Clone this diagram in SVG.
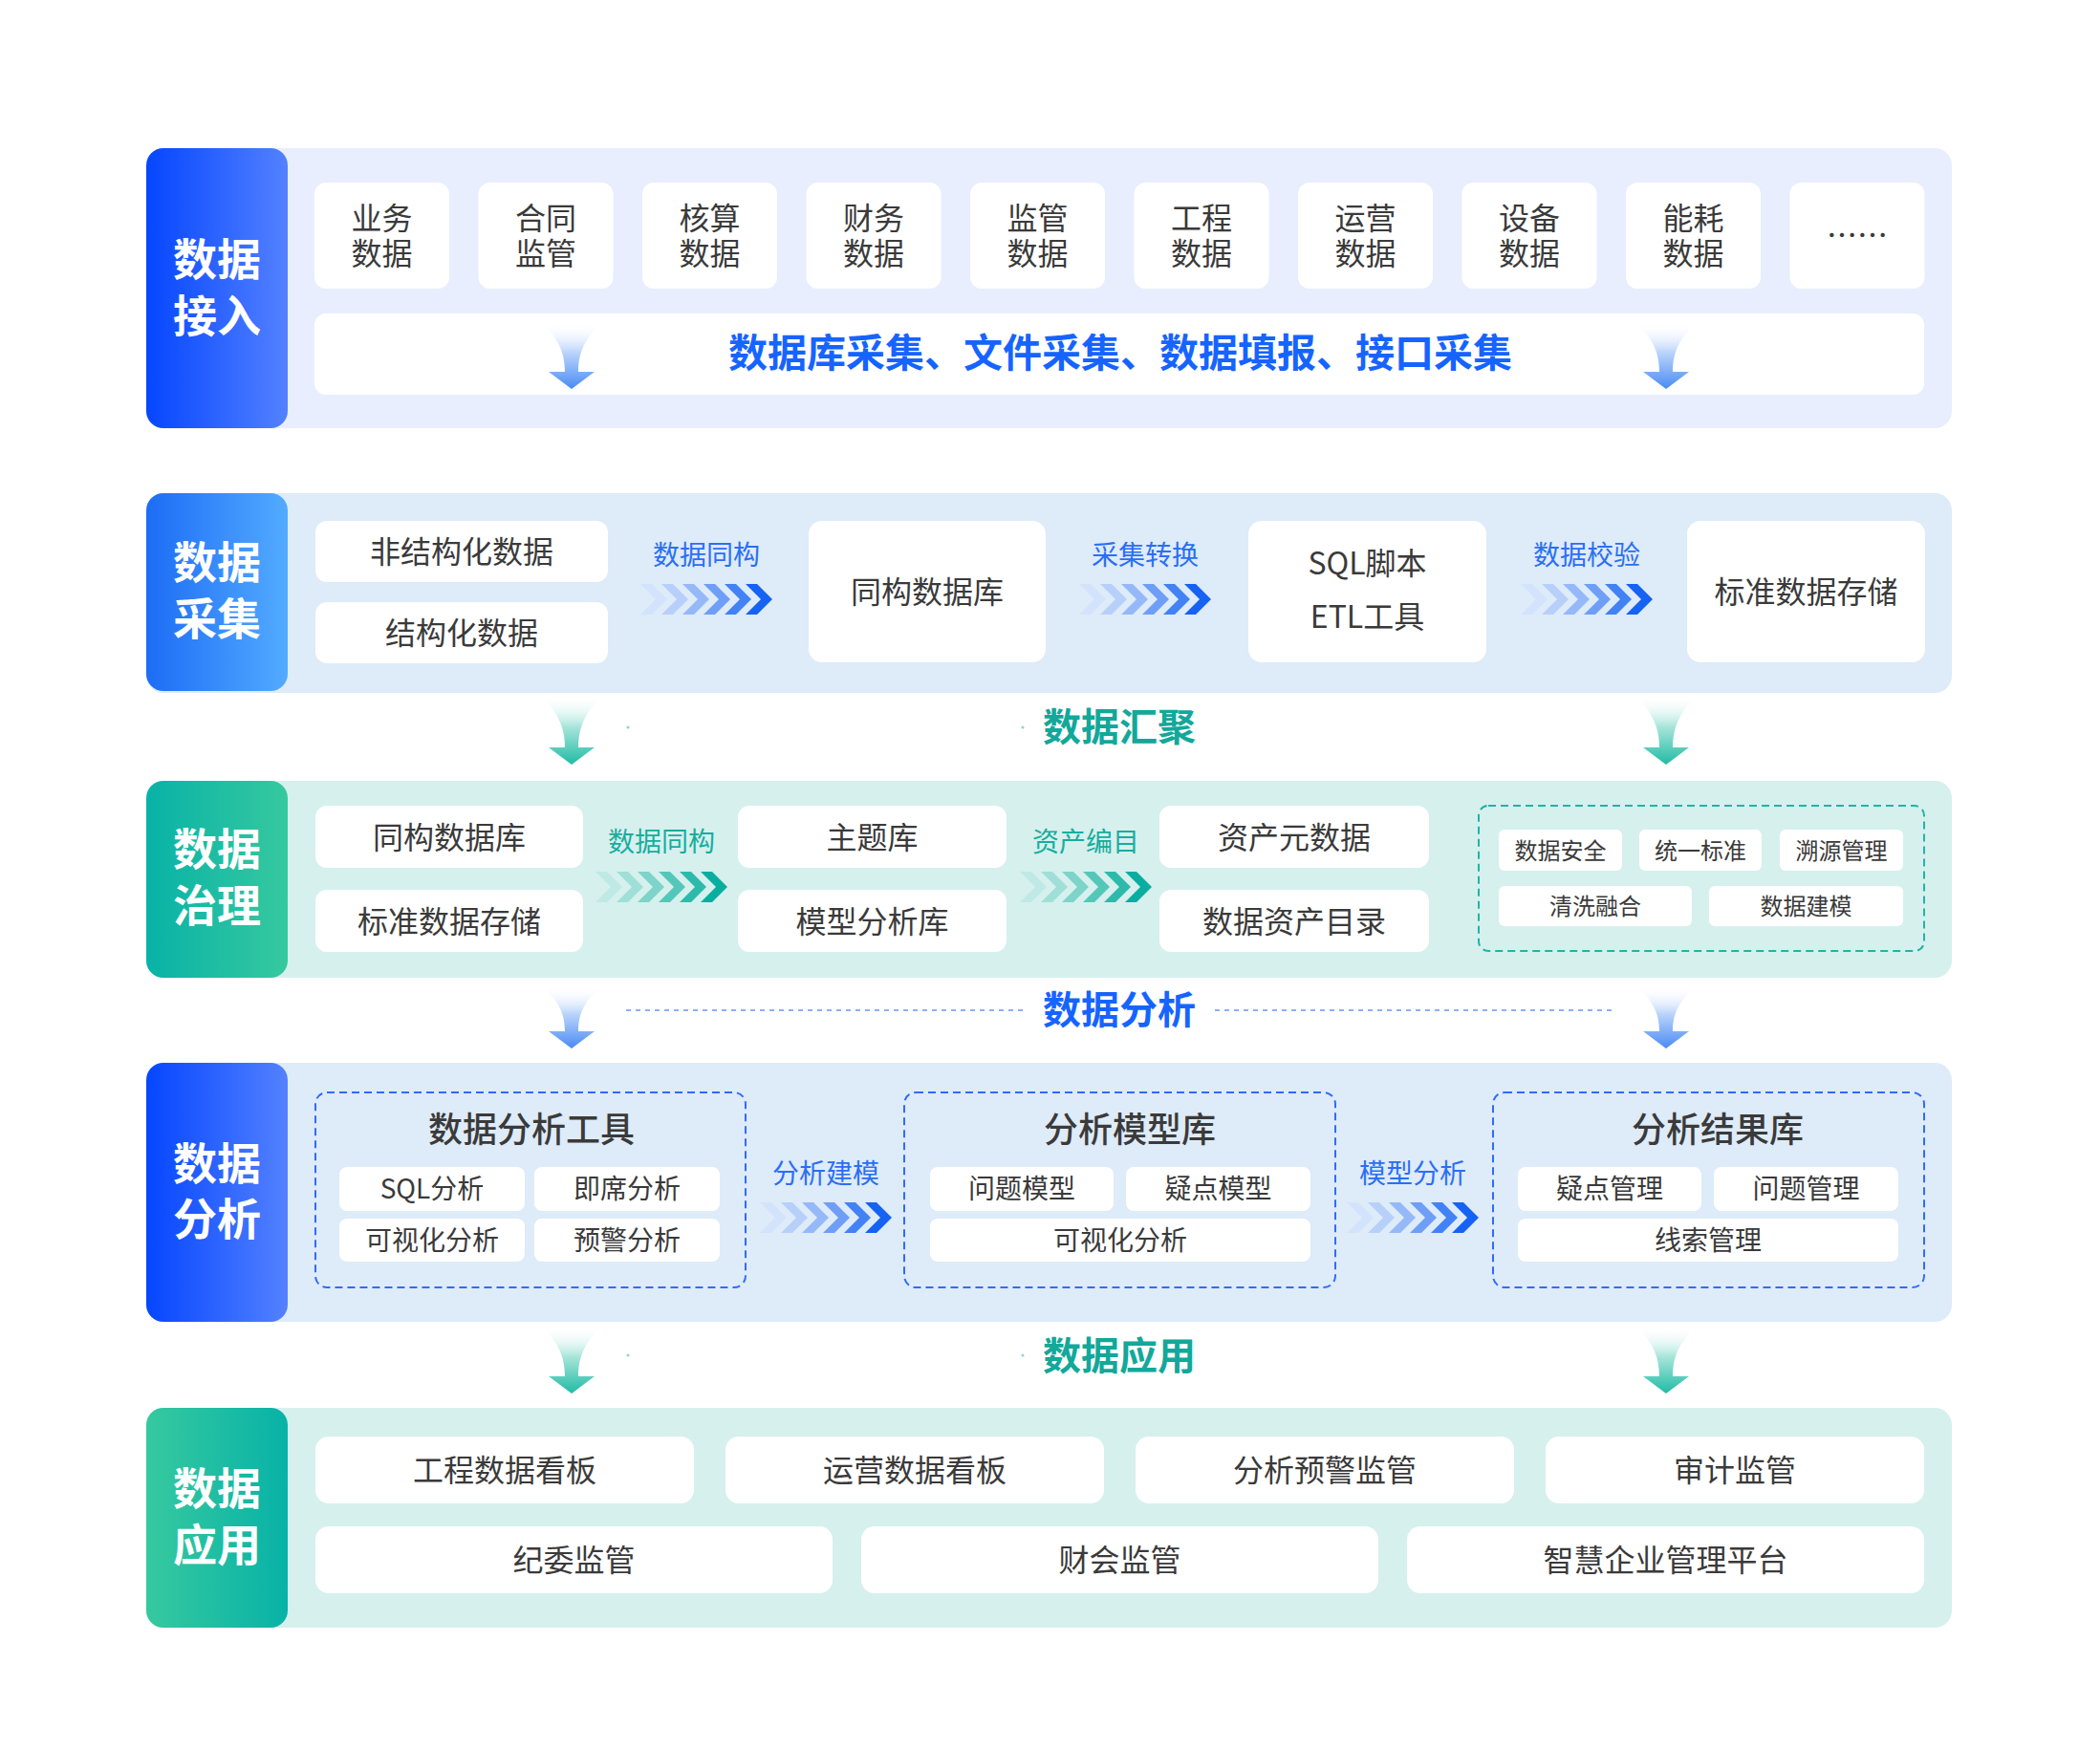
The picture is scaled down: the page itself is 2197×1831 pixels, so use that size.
<svg xmlns="http://www.w3.org/2000/svg" width="2197" height="1831" viewBox="0 0 2197 1831">
<style>
text{font-family:"Noto Sans CJK SC","Noto Sans",sans-serif;text-anchor:middle}
.card{fill:#ffffff}
.t32{font-size:32px;fill:#3a3a3a}
.t28{font-size:28px;fill:#3a3a3a}
.t24{font-size:24px;fill:#3a3a3a}
.t36{font-size:36px;fill:#3a3a3a;font-weight:500}
.lab{font-size:46px;fill:#ffffff;font-weight:700}
.lb{font-size:28px;fill:#2a6ff5}
.lt{font-size:28px;fill:#18ad9e}
.hb{font-size:40px;font-weight:700;fill:#1664ff}
.ht{font-size:40px;font-weight:700;fill:#12a89a}
.dashb{fill:none;stroke:#2f6bff;stroke-width:2;stroke-dasharray:8 5}
.dasht{fill:none;stroke:#1fb5a5;stroke-width:2;stroke-dasharray:8 5}
</style>
<defs>
<linearGradient id="gBlue" x1="0" y1="0" x2="1" y2="0"><stop offset="0" stop-color="#0546ff"/><stop offset="1" stop-color="#5381ff"/></linearGradient>
<linearGradient id="gSky" x1="0" y1="0" x2="1" y2="0"><stop offset="0" stop-color="#1d6cf6"/><stop offset="1" stop-color="#53abff"/></linearGradient>
<linearGradient id="gTeal" x1="0" y1="0" x2="1" y2="0"><stop offset="0" stop-color="#08b2a7"/><stop offset="1" stop-color="#36c99f"/></linearGradient>
<linearGradient id="gTeal2" x1="0" y1="0" x2="1" y2="0"><stop offset="0" stop-color="#36c99f"/><stop offset="1" stop-color="#08b2a7"/></linearGradient>
<linearGradient id="aBlue" x1="0" y1="0" x2="0" y2="1"><stop offset="0" stop-color="#ffffff" stop-opacity="0"/><stop offset="0.45" stop-color="#b9d3fb"/><stop offset="1" stop-color="#4a8bf4"/></linearGradient>
<linearGradient id="aTeal" x1="0" y1="0" x2="0" y2="1"><stop offset="0" stop-color="#ffffff" stop-opacity="0"/><stop offset="0.45" stop-color="#a8e5da"/><stop offset="1" stop-color="#20bba5"/></linearGradient>
<path id="chev" d="M0,0 H12 L28,16 L12,32 H0 L16,16 Z"/>
<g id="chevB">
<use href="#chev" x="0" fill="#d3e3fc"/><use href="#chev" x="22" fill="#b7d0fa"/><use href="#chev" x="44" fill="#95b9f8"/><use href="#chev" x="66" fill="#6e9ef6"/><use href="#chev" x="88" fill="#4282f4"/><use href="#chev" x="110" fill="#1662f2"/>
</g>
<g id="chevT">
<use href="#chev" x="0" fill="#bfe9e4"/><use href="#chev" x="22" fill="#a0dfd7"/><use href="#chev" x="44" fill="#7dd4c9"/><use href="#chev" x="66" fill="#55c7b9"/><use href="#chev" x="88" fill="#2dbaaa"/><use href="#chev" x="110" fill="#0aae9f"/>
</g>
</defs>
<rect width="2197" height="1831" fill="#ffffff"/>

<!-- Section 1 -->
<g id="sec-access">
<rect x="153" y="155" width="1889" height="293" rx="18" fill="#e8eefd"/>
<rect x="153" y="155" width="148" height="293" rx="18" fill="url(#gBlue)"/>
<text class="lab" x="227" y="288"><tspan x="227" y="288">数据</tspan><tspan x="227" y="347">接入</tspan></text>
</g>
<g id="n-yewu"><rect class="card" x="329" y="191" width="141" height="111" rx="12"/><text class="t32"><tspan x="399.5" y="239.5">业务</tspan><tspan x="399.5" y="277">数据</tspan></text></g>
<g id="n-hetong"><rect class="card" x="500.5" y="191" width="141" height="111" rx="12"/><text class="t32"><tspan x="571" y="239.5">合同</tspan><tspan x="571" y="277">监管</tspan></text></g>
<g id="n-hesuan"><rect class="card" x="672" y="191" width="141" height="111" rx="12"/><text class="t32"><tspan x="742.5" y="239.5">核算</tspan><tspan x="742.5" y="277">数据</tspan></text></g>
<g id="n-caiwu"><rect class="card" x="843.5" y="191" width="141" height="111" rx="12"/><text class="t32"><tspan x="914" y="239.5">财务</tspan><tspan x="914" y="277">数据</tspan></text></g>
<g id="n-jianguan"><rect class="card" x="1015" y="191" width="141" height="111" rx="12"/><text class="t32"><tspan x="1085.5" y="239.5">监管</tspan><tspan x="1085.5" y="277">数据</tspan></text></g>
<g id="n-gongcheng"><rect class="card" x="1186.5" y="191" width="141" height="111" rx="12"/><text class="t32"><tspan x="1257" y="239.5">工程</tspan><tspan x="1257" y="277">数据</tspan></text></g>
<g id="n-yunying"><rect class="card" x="1358" y="191" width="141" height="111" rx="12"/><text class="t32"><tspan x="1428.5" y="239.5">运营</tspan><tspan x="1428.5" y="277">数据</tspan></text></g>
<g id="n-shebei"><rect class="card" x="1529.5" y="191" width="141" height="111" rx="12"/><text class="t32"><tspan x="1600" y="239.5">设备</tspan><tspan x="1600" y="277">数据</tspan></text></g>
<g id="n-nenghao"><rect class="card" x="1701" y="191" width="141" height="111" rx="12"/><text class="t32"><tspan x="1771.5" y="239.5">能耗</tspan><tspan x="1771.5" y="277">数据</tspan></text></g>
<g id="n-more"><rect class="card" x="1872.5" y="191" width="141" height="111" rx="12"/><text class="t32" x="1943" y="258">……</text></g>
<g id="n-collect-bar"><rect class="card" x="329" y="328" width="1684" height="85" rx="12"/><text x="1172" y="384" style="font-size:41px;font-weight:700;fill:#1664ff">数据库采集、文件采集、数据填报、接口采集</text></g>

<!-- Section 2 -->
<g id="sec-collect">
<rect x="153" y="516" width="1889" height="209" rx="18" fill="#deebf8"/>
<rect x="153" y="516" width="148" height="207" rx="18" fill="url(#gSky)"/>
<text class="lab"><tspan x="227" y="605">数据</tspan><tspan x="227" y="664">采集</tspan></text>
</g>
<g id="n-unstruct"><rect class="card" x="330" y="545" width="306" height="64" rx="12"/><text class="t32" x="483" y="589">非结构化数据</text></g>
<g id="n-struct"><rect class="card" x="330" y="630" width="306" height="64" rx="12"/><text class="t32" x="483" y="674">结构化数据</text></g>
<g id="n-tonggou"><rect class="card" x="846" y="545" width="248" height="148" rx="14"/><text class="t32" x="970" y="631">同构数据库</text></g>
<g id="n-sql"><rect class="card" x="1306" y="545" width="249" height="148" rx="14"/><text class="t32"><tspan x="1430.5" y="601">SQL脚本</tspan><tspan x="1430.5" y="657">ETL工具</tspan></text></g>
<g id="n-std"><rect class="card" x="1765" y="545" width="249" height="148" rx="14"/><text class="t32" x="1889.5" y="631">标准数据存储</text></g>

<!-- Section 3 -->
<g id="sec-govern">
<rect x="153" y="817" width="1889" height="206" rx="18" fill="#d6f0ee"/>
<rect x="153" y="817" width="148" height="206" rx="18" fill="url(#gTeal)"/>
<text class="lab"><tspan x="227" y="905">数据</tspan><tspan x="227" y="964">治理</tspan></text>
</g>
<g id="n-g-tonggou"><rect class="card" x="330" y="843" width="280" height="65" rx="12"/><text class="t32" x="470" y="887.5">同构数据库</text></g>
<g id="n-g-std"><rect class="card" x="330" y="931" width="280" height="65" rx="12"/><text class="t32" x="470" y="975.5">标准数据存储</text></g>
<g id="n-zhuti"><rect class="card" x="772" y="843" width="281" height="65" rx="12"/><text class="t32" x="912.5" y="887.5">主题库</text></g>
<g id="n-moxing"><rect class="card" x="772" y="931" width="281" height="65" rx="12"/><text class="t32" x="912.5" y="975.5">模型分析库</text></g>
<g id="n-meta"><rect class="card" x="1213" y="843" width="282" height="65" rx="12"/><text class="t32" x="1354" y="887.5">资产元数据</text></g>
<g id="n-catalog"><rect class="card" x="1213" y="931" width="282" height="65" rx="12"/><text class="t32" x="1354" y="975.5">数据资产目录</text></g>
<g id="n-govtools">
<rect class="dasht" x="1547" y="843" width="466" height="152" rx="10"/>
<rect class="card" x="1568" y="868" width="129" height="43" rx="6"/><text class="t24" x="1632.5" y="898.5">数据安全</text>
<rect class="card" x="1715" y="868" width="128" height="43" rx="6"/><text class="t24" x="1779" y="898.5">统一标准</text>
<rect class="card" x="1862" y="868" width="129" height="43" rx="6"/><text class="t24" x="1926.5" y="898.5">溯源管理</text>
<rect class="card" x="1568" y="927" width="202" height="42" rx="6"/><text class="t24" x="1669" y="957">清洗融合</text>
<rect class="card" x="1788" y="927" width="203" height="42" rx="6"/><text class="t24" x="1889.5" y="957">数据建模</text>
</g>

<!-- Section 4 -->
<g id="sec-analysis">
<rect x="153" y="1112" width="1889" height="271" rx="18" fill="#deebf8"/>
<rect x="153" y="1112" width="148" height="271" rx="18" fill="url(#gBlue)"/>
<text class="lab"><tspan x="227" y="1234">数据</tspan><tspan x="227" y="1292">分析</tspan></text>
</g>
<g id="n-tools">
<rect class="dashb" x="330" y="1143" width="450" height="204" rx="12"/>
<text class="t36" x="556" y="1195">数据分析工具</text>
<rect class="card" x="355" y="1221" width="194" height="46" rx="8"/><text class="t28" x="452" y="1254">SQL分析</text>
<rect class="card" x="559" y="1221" width="194" height="46" rx="8"/><text class="t28" x="656" y="1254">即席分析</text>
<rect class="card" x="355" y="1275" width="194" height="45" rx="8"/><text class="t28" x="452" y="1308">可视化分析</text>
<rect class="card" x="559" y="1275" width="194" height="45" rx="8"/><text class="t28" x="656" y="1308">预警分析</text>
</g>
<g id="n-models">
<rect class="dashb" x="946" y="1143" width="451" height="204" rx="12"/>
<text class="t36" x="1182" y="1195">分析模型库</text>
<rect class="card" x="973" y="1221" width="192" height="46" rx="8"/><text class="t28" x="1069" y="1254">问题模型</text>
<rect class="card" x="1178" y="1221" width="193" height="46" rx="8"/><text class="t28" x="1274.5" y="1254">疑点模型</text>
<rect class="card" x="973" y="1275" width="398" height="45" rx="8"/><text class="t28" x="1172" y="1308">可视化分析</text>
</g>
<g id="n-results">
<rect class="dashb" x="1562" y="1143" width="451" height="204" rx="12"/>
<text class="t36" x="1797" y="1195">分析结果库</text>
<rect class="card" x="1588" y="1221" width="192" height="46" rx="8"/><text class="t28" x="1684" y="1254">疑点管理</text>
<rect class="card" x="1793" y="1221" width="193" height="46" rx="8"/><text class="t28" x="1889.5" y="1254">问题管理</text>
<rect class="card" x="1588" y="1275" width="398" height="45" rx="8"/><text class="t28" x="1787" y="1308">线索管理</text>
</g>

<!-- Section 5 -->
<g id="sec-app">
<rect x="153" y="1473" width="1889" height="230" rx="18" fill="#d6f0ee"/>
<rect x="153" y="1473" width="148" height="230" rx="18" fill="url(#gTeal2)"/>
<text class="lab"><tspan x="227" y="1574">数据</tspan><tspan x="227" y="1633">应用</tspan></text>
</g>
<g id="n-a1"><rect class="card" x="330" y="1503" width="396" height="70" rx="14"/><text class="t32" x="528" y="1550">工程数据看板</text></g>
<g id="n-a2"><rect class="card" x="759" y="1503" width="396" height="70" rx="14"/><text class="t32" x="957" y="1550">运营数据看板</text></g>
<g id="n-a3"><rect class="card" x="1188" y="1503" width="396" height="70" rx="14"/><text class="t32" x="1386" y="1550">分析预警监管</text></g>
<g id="n-a4"><rect class="card" x="1617" y="1503" width="396" height="70" rx="14"/><text class="t32" x="1815" y="1550">审计监管</text></g>
<g id="n-a5"><rect class="card" x="330" y="1597" width="541" height="70" rx="14"/><text class="t32" x="600.5" y="1644">纪委监管</text></g>
<g id="n-a6"><rect class="card" x="901" y="1597" width="541" height="70" rx="14"/><text class="t32" x="1171.5" y="1644">财会监管</text></g>
<g id="n-a7"><rect class="card" x="1472" y="1597" width="541" height="70" rx="14"/><text class="t32" x="1742.5" y="1644">智慧企业管理平台</text></g>

<!-- Connectors -->
<g id="connectors">
<path fill="url(#aBlue)" d="M566,338 C584,353 591,369 591,389 L574,389 L598,407 L622,389 L605,389 C605,369 612,353 630,338 Z"/>
<path fill="url(#aBlue)" d="M1711,338 C1729,353 1736,369 1736,389 L1719,389 L1743,407 L1767,389 L1750,389 C1750,369 1757,353 1775,338 Z"/>
<use href="#chevB" x="670" y="611"/><text class="lb" x="739" y="591">数据同构</text>
<use href="#chevB" x="1129" y="611"/><text class="lb" x="1198" y="591">采集转换</text>
<use href="#chevB" x="1591" y="611"/><text class="lb" x="1660" y="591">数据校验</text>
<path fill="url(#aTeal)" d="M566,728 C584,745 591,762 591,782 L574,782 L598,800 L622,782 L605,782 C605,762 612,745 630,728 Z"/>
<path fill="url(#aTeal)" d="M1711,728 C1729,745 1736,762 1736,782 L1719,782 L1743,800 L1767,782 L1750,782 C1750,762 1757,745 1775,728 Z"/>
<circle cx="657" cy="761" r="1.5" fill="#18ad9e" opacity="0.5"/><circle cx="1070" cy="761" r="1.5" fill="#18ad9e" opacity="0.5"/>
<text class="ht" x="1171" y="775">数据汇聚</text>
<use href="#chevT" x="623" y="912"/><text class="lt" x="692" y="891">数据同构</text>
<use href="#chevT" x="1067" y="912"/><text class="lt" x="1136" y="891">资产编目</text>
<path fill="url(#aBlue)" d="M566,1032 C584,1046 591,1060 591,1079 L574,1079 L598,1097 L622,1079 L605,1079 C605,1060 612,1046 630,1032 Z"/>
<path fill="url(#aBlue)" d="M1711,1032 C1729,1046 1736,1060 1736,1079 L1719,1079 L1743,1097 L1767,1079 L1750,1079 C1750,1060 1757,1046 1775,1032 Z"/>
<line x1="655" y1="1057" x2="1071" y2="1057" stroke="#6b95f0" stroke-width="1.5" stroke-dasharray="5 5"/>
<line x1="1271" y1="1057" x2="1688" y2="1057" stroke="#6b95f0" stroke-width="1.5" stroke-dasharray="5 5"/>
<text class="hb" x="1171" y="1071">数据分析</text>
<use href="#chevB" x="795" y="1258"/><text class="lb" x="864" y="1238">分析建模</text>
<use href="#chevB" x="1409" y="1258"/><text class="lb" x="1478" y="1238">模型分析</text>
<path fill="url(#aTeal)" d="M566,1388 C584,1403 591,1420 591,1440 L574,1440 L598,1458 L622,1440 L605,1440 C605,1420 612,1403 630,1388 Z"/>
<path fill="url(#aTeal)" d="M1711,1388 C1729,1403 1736,1420 1736,1440 L1719,1440 L1743,1458 L1767,1440 L1750,1440 C1750,1420 1757,1403 1775,1388 Z"/>
<circle cx="657" cy="1418" r="1.5" fill="#18ad9e" opacity="0.5"/><circle cx="1070" cy="1418" r="1.5" fill="#18ad9e" opacity="0.5"/>
<text class="ht" x="1171" y="1433">数据应用</text>
</g>
</svg>
